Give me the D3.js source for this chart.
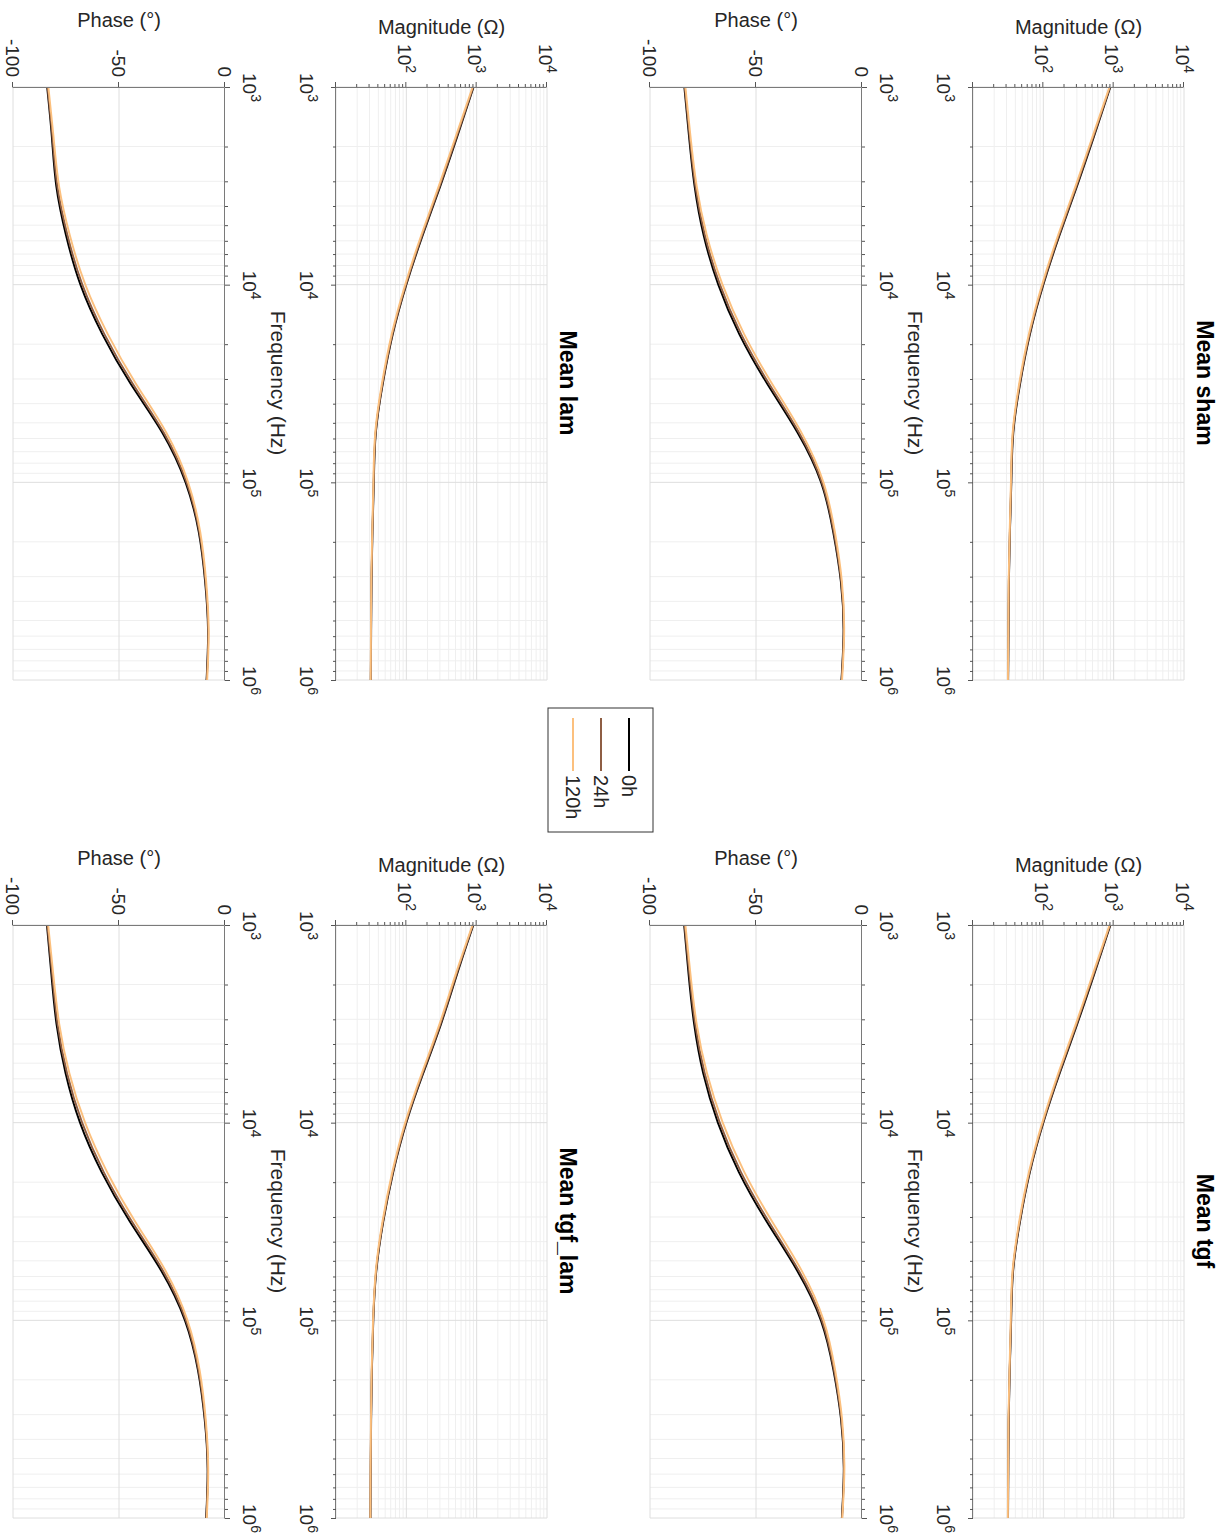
<!DOCTYPE html>
<html lang="en">
    <head>
        <meta charset="utf-8">
        <title>Mean impedance spectra</title>
        <script src="https://d3js.org/d3.v7.min.js"></script>
        <style>
            body { margin: 0; background: #fff; }
            text { font-family: "Liberation Sans", Arial, sans-serif; fill: #262626; }
        </style>
    </head>

    <body>
        <div id="chart"></div>

        <script>
            // frequencies (Hz), quarter-decade steps
            var freqHz = [1000, 1778, 3162, 5623, 10000, 17783, 31623, 56234, 100000, 177828, 316228, 562341, 1000000];

            var seriesNames = ["0h", "24h", "120h"];
            var seriesColors = ["#000000", "#8e5e44", "#fcc07e"];

            var titles = ["Mean sham", "Mean tgf", "Mean lam", "Mean tgf_lam"];

            // magnitude (ohm), one row per series: 0h, 24h, 120h
            var magSham = [
                [897, 525, 302, 170, 100, 64.6, 46.8, 37.4, 35.1, 33.5, 32.4, 32.0, 31.6],
                [888, 516, 296, 167, 98.5, 63.8, 46.3, 37.0, 34.9, 33.4, 32.3, 31.9, 31.5],
                [872, 502, 288, 162, 96, 62.3, 45.4, 36.6, 34.6, 33.2, 32.1, 31.7, 31.4]
            ];
            var magTgf = [
                [900, 528, 304, 171, 100, 64.4, 46.6, 37.2, 34.9, 33.3, 32.2, 31.8, 31.5],
                [890, 518, 298, 168, 98.8, 63.7, 46.2, 36.9, 34.7, 33.2, 32.1, 31.7, 31.4],
                [874, 504, 290, 163, 96.4, 62.4, 45.4, 36.5, 34.4, 33.0, 31.9, 31.6, 31.3]
            ];
            var magLam = [
                [905, 530, 305, 171, 100, 64.2, 46.3, 36.8, 34.5, 33.0, 32.0, 31.6, 31.3],
                [895, 520, 299, 168, 98.7, 63.5, 45.9, 36.6, 34.3, 32.9, 31.9, 31.5, 31.2],
                [875, 505, 290, 163, 96.2, 62.0, 45.0, 36.1, 34.0, 32.7, 31.7, 31.4, 31.1]
            ];
            var magTgfLam = [
                [897, 525, 312, 174, 100, 65.2, 47.0, 37.4, 33.9, 32.4, 31.6, 31.2, 30.9],
                [888, 516, 306, 171, 98.6, 64.5, 46.6, 37.2, 33.8, 32.3, 31.5, 31.1, 30.8],
                [872, 502, 297, 166, 96.2, 63.1, 45.8, 36.8, 33.6, 32.1, 31.4, 31.0, 30.8]
            ];

            // phase (degrees)
            var phaseSham = [
                [-83.8, -81.6, -79.0, -74.7, -67.8, -57.9, -44.8, -30.3, -19.3, -13.6, -10.0, -8.7, -9.7],
                [-83.6, -81.3, -78.6, -74.1, -67.0, -57.0, -43.9, -29.6, -18.9, -13.3, -9.8, -8.6, -9.6],
                [-83.3, -80.9, -78.0, -73.2, -65.8, -55.6, -42.5, -28.5, -18.2, -12.8, -9.5, -8.4, -9.4]
            ];
            var phaseTgf = [
                [-83.9, -81.8, -79.2, -74.9, -68.0, -58.1, -45.0, -30.5, -19.4, -13.5, -9.9, -8.6, -9.5],
                [-83.7, -81.4, -78.7, -74.2, -67.1, -57.1, -44.0, -29.7, -18.9, -13.2, -9.7, -8.5, -9.4],
                [-83.3, -80.9, -78.0, -73.1, -65.7, -55.5, -42.4, -28.4, -18.1, -12.7, -9.4, -8.3, -9.3]
            ];
            var phaseLam = [
                [-83.9, -81.7, -79.6, -75.0, -68.2, -57.9, -44.6, -29.5, -18.6, -12.4, -9.4, -8.0, -8.7],
                [-83.7, -81.4, -79.1, -74.3, -67.3, -56.9, -43.6, -28.8, -18.1, -12.1, -9.2, -7.9, -8.6],
                [-83.3, -80.9, -78.3, -73.2, -65.9, -55.3, -42.1, -27.6, -17.4, -11.7, -8.9, -7.7, -8.4]
            ];
            var phaseTgfLam = [
                [-84.0, -81.9, -79.5, -75.2, -68.4, -58.2, -44.9, -30.0, -18.9, -12.8, -9.6, -8.2, -8.9],
                [-83.8, -81.5, -79.0, -74.5, -67.4, -57.2, -43.9, -29.2, -18.4, -12.5, -9.4, -8.1, -8.8],
                [-83.4, -81.0, -78.2, -73.4, -66.0, -55.6, -42.4, -28.0, -17.7, -12.0, -9.1, -7.9, -8.6]
            ];

            var magTicks = [1e2, 1e3, 1e4];
            var phaseTicks = [-100, -50, 0];

            // the figure is drawn landscape, then turned a quarter turn clockwise
            var W = 1232, H = 1537;
            var svg = d3.select("#chart")
                        .append("svg")
                        .attr("width", W)
                        .attr("height", H);

            svg.append("rect").attr("width", W).attr("height", H).style("fill", "#fff");

            var root = svg.append("g")
                          .attr("transform", "translate(" + W + ",0) rotate(90)");

            var isMajor = function(v){
                var l = Math.log10(v);
                return Math.abs(l - Math.round(l)) < 1e-6;
            };

            //tick label like 10^3
            function powLabel(sel, v){
                sel.append("tspan").text("10");
                sel.append("tspan")
                    .attr("dy", -8)
                    .style("font-size", "14px")
                    .text(Math.round(Math.log10(v)));
            }

            function drawPanel(title, col, row, mag, phase){
                var x0 = col === 0 ? 87 : 925;
                var off = row === 0 ? 0 : 637;
                var magTop = off + 48, magBot = off + 259;
                var phTop = off + 370, phBot = off + 582;

                var x = d3.scaleLog().domain([1e3, 1e6]).range([x0, x0 + 593]);
                var yMag = d3.scaleLog().domain([10, 1e4]).range([magBot, magTop]);
                var yPh = d3.scaleLinear().domain([-100, 0]).range([phBot, phTop]);

                var fTicks = x.ticks();
                var mTicks = yMag.ticks();

                var g = root.append("g");

                // ---- magnitude ----
                // minor grid
                g.append("g").selectAll("line")
                    .data(fTicks.filter(function(d){ return !isMajor(d); }))
                    .enter().append("line")
                    .attr("x1", function(d){ return x(d); }).attr("x2", function(d){ return x(d); })
                    .attr("y1", magTop).attr("y2", magBot)
                    .style("stroke", "#efefef");
                g.append("g").selectAll("line")
                    .data(mTicks.filter(function(d){ return !isMajor(d); }))
                    .enter().append("line")
                    .attr("x1", x0).attr("x2", x0 + 593)
                    .attr("y1", function(d){ return yMag(d); }).attr("y2", function(d){ return yMag(d); })
                    .style("stroke", "#efefef");
                // major grid
                g.append("g").selectAll("line")
                    .data(fTicks.filter(isMajor))
                    .enter().append("line")
                    .attr("x1", function(d){ return x(d); }).attr("x2", function(d){ return x(d); })
                    .attr("y1", magTop).attr("y2", magBot)
                    .style("stroke", "#dedede");
                g.append("g").selectAll("line")
                    .data(mTicks.filter(isMajor))
                    .enter().append("line")
                    .attr("x1", x0).attr("x2", x0 + 593)
                    .attr("y1", function(d){ return yMag(d); }).attr("y2", function(d){ return yMag(d); })
                    .style("stroke", "#dedede");

                var magLine = d3.line()
                    .x(function(d, i){ return x(freqHz[i]); })
                    .y(function(d){ return yMag(d); })
                    .curve(d3.curveNatural);

                mag.forEach(function(s, k){
                    g.append("path")
                        .datum(s)
                        .attr("d", magLine)
                        .style("fill", "none")
                        .style("stroke", seriesColors[k])
                        .style("stroke-width", 1.9);
                });

                // x axis (bottom)
                var ax = g.append("g")
                    .attr("transform", "translate(0," + magBot + ")")
                    .call(d3.axisBottom(x).tickValues(fTicks).tickFormat("").tickSizeOuter(0));
                ax.selectAll(".tick line").attr("y2", function(d){ return isMajor(d) ? 5 : 3; });

                ax.selectAll(".tick")
                    .filter(isMajor)
                    .append("text")
                    .attr("y", 36)
                    .attr("text-anchor", "middle")
                    .style("font-size", "19px")
                    .each(function(d){ powLabel(d3.select(this), d); });

                // y axis (left)
                var ay = g.append("g")
                    .attr("transform", "translate(" + x0 + ",0)")
                    .call(d3.axisLeft(yMag).tickValues(mTicks).tickFormat("").tickSizeOuter(0));
                ay.selectAll(".tick line").attr("x2", function(d){ return isMajor(d) ? -5 : -3; });
                ay.selectAll(".tick")
                    .filter(function(d){ return magTicks.indexOf(d) >= 0; })
                    .append("text")
                    .attr("x", -14)
                    .attr("y", 8)
                    .attr("text-anchor", "end")
                    .style("font-size", "19px")
                    .each(function(d){ powLabel(d3.select(this), d); });

                // ---- phase ----
                g.append("g").selectAll("line")
                    .data(fTicks.filter(function(d){ return !isMajor(d); }))
                    .enter().append("line")
                    .attr("x1", function(d){ return x(d); }).attr("x2", function(d){ return x(d); })
                    .attr("y1", phTop).attr("y2", phBot)
                    .style("stroke", "#efefef");
                g.append("g").selectAll("line")
                    .data(fTicks.filter(isMajor))
                    .enter().append("line")
                    .attr("x1", function(d){ return x(d); }).attr("x2", function(d){ return x(d); })
                    .attr("y1", phTop).attr("y2", phBot)
                    .style("stroke", "#dedede");
                g.append("g").selectAll("line")
                    .data([-100, -50])
                    .enter().append("line")
                    .attr("x1", x0).attr("x2", x0 + 593)
                    .attr("y1", function(d){ return yPh(d); }).attr("y2", function(d){ return yPh(d); })
                    .style("stroke", "#dedede");

                var phLine = d3.line()
                    .x(function(d, i){ return x(freqHz[i]); })
                    .y(function(d){ return yPh(d); })
                    .curve(d3.curveNatural);

                phase.forEach(function(s, k){
                    g.append("path")
                        .datum(s)
                        .attr("d", phLine)
                        .style("fill", "none")
                        .style("stroke", seriesColors[k])
                        .style("stroke-width", 1.9);
                });

                // x axis sits at phase 0, on top
                var px = g.append("g")
                    .attr("transform", "translate(0," + yPh(0) + ")")
                    .call(d3.axisTop(x).tickValues(fTicks).tickFormat("").tickSizeOuter(0));
                px.selectAll(".tick line").attr("y2", function(d){ return isMajor(d) ? -5 : -3; });
                px.selectAll(".tick")
                    .filter(isMajor)
                    .append("text")
                    .attr("y", -18)
                    .attr("text-anchor", "middle")
                    .style("font-size", "19px")
                    .each(function(d){ powLabel(d3.select(this), d); });

                var py = g.append("g")
                    .attr("transform", "translate(" + x0 + ",0)")
                    .call(d3.axisLeft(yPh).tickValues(phaseTicks)
                        .tickFormat(function(d){ return String(d); })
                        .tickSize(5).tickSizeOuter(0));
                py.selectAll(".tick text")
                    .attr("x", -10)
                    .style("font-size", "19px")
                    .style("font-family", "'Liberation Sans', Arial, sans-serif");

                // axis colours
                g.selectAll(".domain").style("stroke", "#7a7a7a");
                g.selectAll(".tick line").style("stroke", "#555");

                // labels
                g.append("text")
                    .attr("x", x0 + 296)
                    .attr("y", off + 35)
                    .attr("text-anchor", "middle")
                    .style("font-size", "23px")
                    .style("font-weight", "bold")
                    .style("fill", "#000")
                    .text(title);

                g.append("text")
                    .attr("x", x0 + 296)
                    .attr("y", off + 324)
                    .attr("text-anchor", "middle")
                    .style("font-size", "21px")
                    .text("Frequency (Hz)");

                g.append("text")
                    .attr("transform", "translate(" + (x0 - 53) + "," + ((magTop + magBot) / 2) + ") rotate(-90)")
                    .attr("text-anchor", "middle")
                    .style("font-size", "20px")
                    .text("Magnitude (\u03A9)");

                g.append("text")
                    .attr("transform", "translate(" + (x0 - 60) + "," + ((phTop + phBot) / 2) + ") rotate(-90)")
                    .attr("text-anchor", "middle")
                    .style("font-size", "20px")
                    .text("Phase (\u00B0)");
            }

            drawPanel(titles[0], 0, 0, magSham, phaseSham);
            drawPanel(titles[1], 1, 0, magTgf, phaseTgf);
            drawPanel(titles[2], 0, 1, magLam, phaseLam);
            drawPanel(titles[3], 1, 1, magTgfLam, phaseTgfLam);

            //legend
            var legend = root.append("g");
            legend.append("rect")
                .attr("x", 708).attr("y", 579)
                .attr("width", 124).attr("height", 105)
                .style("fill", "#fff")
                .style("stroke", "#333")
                .style("stroke-width", 1);

            seriesNames.forEach(function(name, i){
                var ly = 603 + i * 28;
                legend.append("line")
                    .attr("x1", 718).attr("x2", 771)
                    .attr("y1", ly).attr("y2", ly)
                    .style("stroke", seriesColors[i])
                    .style("stroke-width", 2);
                legend.append("text")
                    .attr("x", 775).attr("y", ly + 7)
                    .style("font-size", "20px")
                    .text(name);
            });
        </script>
    </body>
</html>
